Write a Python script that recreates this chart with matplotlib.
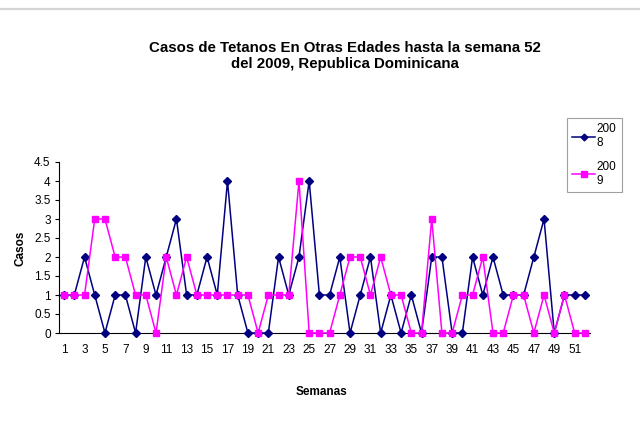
import matplotlib
matplotlib.use("Agg")
import matplotlib.pyplot as plt
from matplotlib.lines import Line2D

plt.rcParams['font.family'] = ['Liberation Sans', 'DejaVu Sans']

weeks = list(range(1, 53))
casos_2008 = [1, 1, 2, 1, 0, 1, 1, 0, 2, 1, 2, 3, 1, 1, 2, 1, 4, 1, 0, 0,
              0, 2, 1, 2, 4, 1, 1, 2, 0, 1, 2, 0, 1, 0, 1, 0, 2, 2, 0, 0,
              2, 1, 2, 1, 1, 1, 2, 3, 0, 1, 1, 1]
casos_2009 = [1, 1, 1, 3, 3, 2, 2, 1, 1, 0, 2, 1, 2, 1, 1, 1, 1, 1, 1, 0,
              1, 1, 1, 4, 0, 0, 0, 1, 2, 2, 1, 2, 1, 1, 0, 0, 3, 0, 0, 1,
              1, 2, 0, 0, 1, 1, 0, 1, 0, 1, 0, 0]
labels = ["200\n8", "200\n9"]
title = "Casos de Tetanos En Otras Edades hasta la semana 52\ndel 2009, Republica Dominicana"
yticks = [0, 0.5, 1, 1.5, 2, 2.5, 3, 3.5, 4, 4.5]
ytick_labels = ["0", "0.5", "1", "1.5", "2", "2.5", "3", "3.5", "4", "4.5"]

fig = plt.figure(figsize=(6.4, 4.41), dpi=100)
fig.add_artist(Line2D([0, 1], [1 - 8.5/441, 1 - 8.5/441], color='#d4d4d4', lw=1.6))

ax = fig.add_axes([59/640, 1 - 333/441, (590 - 59)/640, (333 - 162)/441])
ax.plot(weeks, casos_2008, color='#000080', lw=1.1, marker='D', ms=3.8,
        mfc='#000080', mec='#000080', mew=1, label=labels[0], clip_on=False, zorder=3)
ax.plot(weeks, casos_2009, color='#FF00FF', lw=1.1, marker='s', ms=4.5,
        mfc='#FF00FF', mec='#FF00FF', mew=1, label=labels[1], clip_on=False, zorder=4)

ax.set_xlim(0.5, 52.5)
ax.set_ylim(0, 4.5)
ax.set_yticks(yticks)
ax.set_yticklabels(ytick_labels)
ax.set_xticks(weeks[::2])
ax.set_xticklabels([str(w) for w in weeks[::2]])
ax.tick_params(axis='x', length=0, pad=8, labelsize=8.5)
ax.tick_params(axis='y', length=3, width=0.8, pad=3, labelsize=8.5)
for s in ['top', 'right']:
    ax.spines[s].set_visible(False)
ax.spines['left'].set_linewidth(0.8)
ax.spines['bottom'].set_linewidth(0.8)

fig.text(345/640, 1 - 56/441, title, ha='center', va='center',
         fontsize=10.8, fontweight='bold', linespacing=1.2)
fig.text(20/640, 1 - 248/441, "Casos", rotation=90, ha='center', va='center',
         fontsize=8.5, fontweight='bold')
fig.text(322/640, 1 - 392/441, "Semanas", ha='center', va='center',
         fontsize=8.5, fontweight='bold')

leg = fig.legend(loc='upper left', bbox_to_anchor=(567/640, 1 - 118/441),
                 frameon=True, fancybox=False, fontsize=8.5, handlelength=1.9,
                 handletextpad=0.15, borderpad=0.45, borderaxespad=0,
                 labelspacing=1.0, markerscale=0.9)
leg.get_frame().set_edgecolor('#888888')
leg.get_frame().set_linewidth(0.8)

fig.savefig("out.png", dpi=100)
